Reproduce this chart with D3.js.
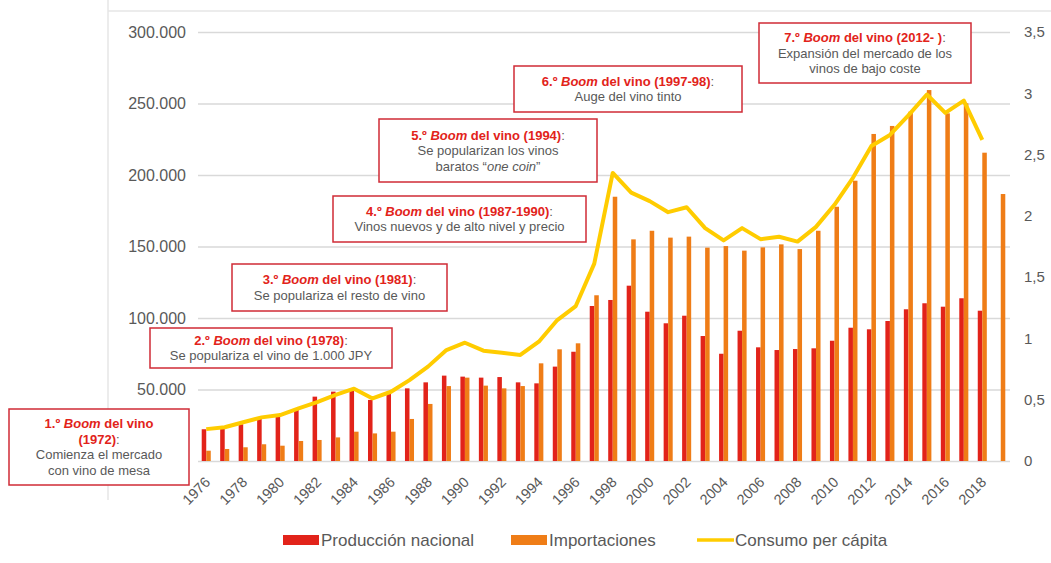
<!DOCTYPE html>
<html>
<head>
<meta charset="utf-8">
<script src="https://cdn.jsdelivr.net/npm/d3@7"></script>
<style>
  body { margin: 0; background: #fff; }
  svg { font-family: "Liberation Sans", Arial, sans-serif; }
</style>
</head>
<body>
<svg width="1051" height="563"></svg>
<script>
// años del eje x
const years = [1976, 1977, 1978, 1979, 1980, 1981, 1982, 1983, 1984, 1985, 1986, 1987, 1988, 1989,
  1990, 1991, 1992, 1993, 1994, 1995, 1996, 1997, 1998, 1999, 2000, 2001, 2002, 2003, 2004, 2005,
  2006, 2007, 2008, 2009, 2010, 2011, 2012, 2013, 2014, 2015, 2016, 2017, 2018, 2019]

// producción nacional (kl)
const produccion = [22200, 22900, 25700, 29400, 31000, 36400, 45000, 48500, 50100, 42700, 47300, 50800, 55000, 59700,
  59000, 58300, 58700, 55000, 54300, 66000, 76400, 108400, 112600, 122600, 104400, 96300, 101600, 87400, 75000, 91100,
  79500, 77600, 78300, 78800, 84100, 93200, 92100, 97900, 106100, 110300, 107900, 113800, 105100, null]

// importaciones (kl)
const importaciones = [7200, 8400, 9600, 11700, 10700, 14000, 14700, 16500, 20500, 19300, 20500, 29400, 39900, 52400,
  58300, 52700, 50800, 52400, 68300, 78100, 82300, 115900, 184800, 155000, 161000, 156200, 156900, 149200, 150300, 147100,
  149400, 151500, 148200, 161000, 177800, 196000, 228700, 234300, 244300, 259400, 243100, 250100, 215600, 186700]

// consumo per cápita (litros)
const consumo = [0.26, 0.275, 0.316, 0.356, 0.375, 0.43, 0.48, 0.54, 0.59, 0.51, 0.565, 0.66, 0.77, 0.905,
  0.965, 0.9, 0.883, 0.865, 0.973, 1.15, 1.264, 1.61, 2.35, 2.19, 2.12, 2.03, 2.07, 1.9, 1.8, 1.9,
  1.81, 1.83, 1.79, 1.91, 2.09, 2.31, 2.57, 2.66, 2.82, 2.99, 2.84, 2.94, 2.62, null]

const leftTicks = [50000, 100000, 150000, 200000, 250000, 300000]
const rightTicks = [0, 0.5, 1, 1.5, 2, 2.5, 3, 3.5]
const seriesNames = ["Producción nacional", "Importaciones", "Consumo per cápita"]

// textos de los "boom" del vino
const boomNums = ["1.º", "2.º", "3.º", "4.º", "5.º", "6.º", "7.º"]
const boomYears = ["(1972)", "(1978)", "(1981)", "(1987-1990)", "(1994)", "(1997-98)", "(2012- )"]
const boomTexts = [
  ["Comienza el mercado", "con vino de mesa"],
  ["Se populariza el vino de 1.000 JPY"],
  ["Se populariza el resto de vino"],
  ["Vinos nuevos y de alto nivel y precio"],
  ["Se popularizan los vinos", "baratos “_one coin_”"],
  ["Auge del vino tinto"],
  ["Expansión del mercado de los", "vinos de bajo coste"]
]
// cajas: x, y, ancho, alto
const boxLayout = [[9, 409, 180, 76], [150, 328, 242, 40], [232, 264, 215, 47], [333, 196, 253, 46],
  [379, 119, 218, 63], [514, 66, 228, 46], [759, 23, 212, 60]]

const RED = "#e2231a", ORANGE = "#ef7d17", YELLOW = "#ffcc00", GREY = "#595959", BOX = "#d02b36"

const svg = d3.select("svg")
const locale = d3.formatLocale({decimal: ",", thousands: ".", grouping: [3], currency: ["", ""]})

const x = d3.scaleBand().domain(years).range([197, 1010]).paddingInner(0.51).paddingOuter(0.255)
const yL = d3.scaleLinear().domain([0, 300000]).range([461, 32])
const yR = d3.scaleLinear().domain([0, 3.5]).range([461, 32])
const bw = x.bandwidth() / 2
const cx = (d) => x(d) + x.bandwidth() / 2

// marco claro
svg.append("line").attr("x1", 108).attr("x2", 108).attr("y1", 0).attr("y2", 500)
  .attr("stroke", "#e6e6e6").attr("stroke-width", 1.5)
svg.append("line").attr("x1", 108).attr("x2", 1051).attr("y1", 11).attr("y2", 11)
  .attr("stroke", "#e6e6e6").attr("stroke-width", 1.5)

// rejilla
svg.append("g").selectAll("line").data([0].concat(leftTicks)).join("line")
  .attr("x1", 198).attr("x2", 1010)
  .attr("y1", (d) => yL(d) + 0.5).attr("y2", (d) => yL(d) + 0.5)
  .attr("stroke", "#d9d9d9").attr("stroke-width", 1.3)

// ejes
const axL = svg.append("g").attr("transform", "translate(186,0)")
  .call(d3.axisLeft(yL).tickValues(leftTicks).tickFormat(locale.format(",.0f")).tickSize(0).tickPadding(0))
const axR = svg.append("g").attr("transform", "translate(1024,0)")
  .call(d3.axisRight(yR).tickValues(rightTicks).tickFormat((d) => locale.format(",")(d)).tickSize(0).tickPadding(0))
svg.selectAll(".domain").remove()
axL.selectAll("text").attr("font-size", 16).attr("fill", GREY).attr("font-family", "Liberation Sans, Arial")
axR.selectAll("text").attr("font-size", 15).attr("fill", GREY).attr("font-family", "Liberation Sans, Arial")

// etiquetas de años, cada dos años
svg.append("g").selectAll("text").data(years.filter((d) => d % 2 == 0)).join("text")
  .attr("transform", (d) => `translate(${cx(d) + 5},${483}) rotate(-45)`)
  .attr("text-anchor", "end")
  .attr("font-size", 14.5).attr("fill", GREY)
  .text((d) => d)

// barras
svg.append("g").selectAll("rect").data(years.filter((d, i) => produccion[i] != null)).join("rect")
  .attr("x", (d) => x(d)).attr("width", bw)
  .attr("y", (d) => yL(produccion[years.indexOf(d)]))
  .attr("height", (d) => yL(0) - yL(produccion[years.indexOf(d)]))
  .attr("fill", RED)
svg.append("g").selectAll("rect").data(years).join("rect")
  .attr("x", (d) => x(d) + bw).attr("width", bw)
  .attr("y", (d, i) => yL(importaciones[i]))
  .attr("height", (d, i) => yL(0) - yL(importaciones[i]))
  .attr("fill", ORANGE)

// línea de consumo
const line = d3.line()
  .defined((d) => d[1] != null)
  .x((d) => cx(d[0]))
  .y((d) => yR(d[1]))
svg.append("path")
  .attr("d", line(years.map((d, i) => [d, consumo[i]])))
  .attr("fill", "none").attr("stroke", YELLOW).attr("stroke-width", 4)
  .attr("stroke-linejoin", "round")

// cajas de anotación
const addRich = (t, str, weight, color) => {
  str.split("_").forEach((part, k) => {
    if (part == "") return
    t.append("tspan").text(part).attr("font-style", k % 2 ? "italic" : null)
      .attr("font-weight", weight).attr("fill", color)
  })
}
boxLayout.forEach((b, i) => {
  const g = svg.append("g")
  g.append("rect").attr("x", b[0]).attr("y", b[1]).attr("width", b[2]).attr("height", b[3])
    .attr("fill", "#fff").attr("stroke", BOX).attr("stroke-width", 1.5)
  const title = i == 0
    ? [boomNums[i] + " _Boom_ del vino", boomYears[i]]
    : [boomNums[i] + " _Boom_ del vino " + boomYears[i]]
  const lines = title.map((s) => ({s, title: true})).concat(boomTexts[i].map((s) => ({s, title: false})))
  const lh = 15.5
  const y0 = b[1] + b[3] / 2 - (lines.length - 1) * lh / 2 + 4.5
  lines.forEach((l, j) => {
    const t = g.append("text").attr("x", b[0] + b[2] / 2).attr("y", y0 + j * lh)
      .attr("text-anchor", "middle").attr("font-size", 13)
    if (l.title) {
      addRich(t, l.s, "bold", RED)
      if (j == title.length - 1) t.append("tspan").text(":").attr("fill", GREY)
    } else {
      addRich(t, l.s, "normal", GREY)
    }
  })
})

// leyenda
const legend = svg.append("g").attr("font-size", 17).attr("fill", GREY)
const legX = [283, 511, 697]
legX.forEach((lx, i) => {
  if (i < 2) {
    legend.append("rect").attr("x", lx).attr("y", 535).attr("width", 36).attr("height", 10)
      .attr("fill", i == 0 ? RED : ORANGE)
  } else {
    legend.append("line").attr("x1", lx).attr("x2", lx + 37).attr("y1", 540).attr("y2", 540)
      .attr("stroke", YELLOW).attr("stroke-width", 3.5)
  }
  legend.append("text").attr("x", lx + 38).attr("y", 546).text(seriesNames[i])
})
</script>
</body>
</html>
